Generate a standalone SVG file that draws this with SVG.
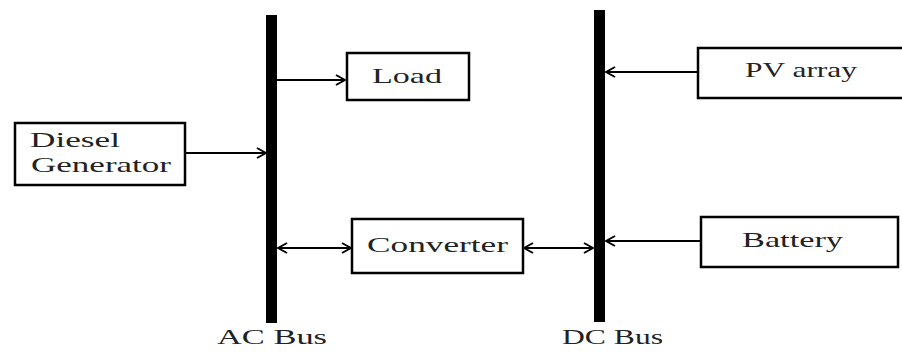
<svg xmlns="http://www.w3.org/2000/svg" width="902" height="356" viewBox="0 0 902 356">
  <style>
    .box { fill: #fff; stroke: #000; stroke-width: 2.5; }
    .bus { fill: #000; }
    .lbl { font-family: "Liberation Serif", "Times New Roman", serif; font-size: 22px; fill: #222; }
    .wire { stroke: #000; stroke-width: 1.8; fill: none; }
  </style>
  <defs>
    <marker id="head" viewBox="0 0 12 12" refX="11" refY="6" markerWidth="12" markerHeight="12" markerUnits="userSpaceOnUse" orient="auto-start-reverse">
      <polyline points="2,1 11,6 2,11" fill="none" stroke="#000" stroke-width="2"/>
    </marker>
  </defs>
  <rect width="902" height="356" fill="#fff"/>

  <!-- buses -->
  <g id="ac-bus">
    <rect class="bus" x="266" y="15" width="11" height="308"/>
    <text class="lbl" x="217" y="344" textLength="110" lengthAdjust="spacingAndGlyphs">AC Bus</text>
  </g>
  <g id="dc-bus">
    <rect class="bus" x="594" y="10" width="11" height="312"/>
    <text class="lbl" x="562" y="344" textLength="101" lengthAdjust="spacingAndGlyphs">DC Bus</text>
  </g>

  <!-- nodes -->
  <g id="diesel">
    <rect class="box" x="15" y="123" width="170" height="62"/>
    <text class="lbl" x="30" y="147" textLength="90" lengthAdjust="spacingAndGlyphs">Diesel</text>
    <text class="lbl" x="31" y="172" textLength="140" lengthAdjust="spacingAndGlyphs">Generator</text>
  </g>
  <g id="load">
    <rect class="box" x="347" y="53" width="122" height="47"/>
    <text class="lbl" x="372" y="83" textLength="70" lengthAdjust="spacingAndGlyphs">Load</text>
  </g>
  <g id="converter">
    <rect class="box" x="352" y="219" width="171" height="54"/>
    <text class="lbl" x="367" y="252" textLength="141" lengthAdjust="spacingAndGlyphs">Converter</text>
  </g>
  <g id="pv">
    <rect class="box" x="698" y="48" width="210" height="50"/>
    <text class="lbl" x="745" y="77" textLength="112" lengthAdjust="spacingAndGlyphs">PV array</text>
  </g>
  <g id="battery">
    <rect class="box" x="701" y="217" width="197" height="50"/>
    <text class="lbl" x="742" y="247" textLength="101" lengthAdjust="spacingAndGlyphs">Battery</text>
  </g>

  <!-- connectors -->
  <g id="connectors">
    <line class="wire" x1="277" y1="80" x2="345" y2="80" marker-end="url(#head)"/>
    <line class="wire" x1="186" y1="153" x2="266" y2="153" marker-end="url(#head)"/>
    <line class="wire" x1="278" y1="248" x2="351" y2="248" marker-start="url(#head)" marker-end="url(#head)"/>
    <line class="wire" x1="524" y1="248" x2="593" y2="248" marker-start="url(#head)" marker-end="url(#head)"/>
    <line class="wire" x1="697" y1="72" x2="606" y2="72" marker-end="url(#head)"/>
    <line class="wire" x1="700" y1="241" x2="606" y2="241" marker-end="url(#head)"/>
  </g>
</svg>
